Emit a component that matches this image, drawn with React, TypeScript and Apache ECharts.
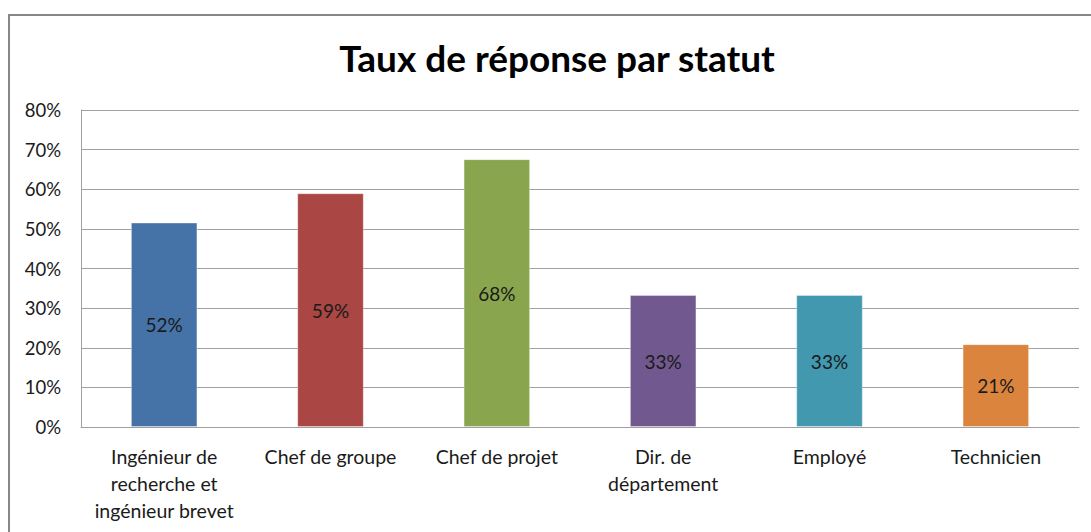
import React, { useEffect, useRef } from "react";
import * as echarts from "echarts";

const categories = [
  "Ingénieur de\nrecherche et\ningénieur brevet",
  "Chef de groupe",
  "Chef de projet",
  "Dir. de\ndépartement",
  "Employé",
  "Technicien",
];
const values = [0.516, 0.59, 0.676, 0.333, 0.333, 0.209];
const labels = ["52%", "59%", "68%", "33%", "33%", "21%"];
const colors = ["#4572A7", "#AA4643", "#89A54E", "#71588F", "#4198AF", "#DB843D"];
const titleText = "Taux de réponse par statut";

const FONT = "Lato, 'Open Sans', sans-serif";

export default function App() {
  const ref = useRef<HTMLDivElement>(null);
  useEffect(() => {
    if (!ref.current) return;
    const chart = echarts.init(ref.current, undefined, { renderer: "svg" });
    chart.setOption({
      animation: false,
      backgroundColor: "#ffffff",
      graphic: [
        {
          type: "polyline",
          shape: { points: [[9, 540], [9, 15], [1095, 15]] },
          style: { fill: "none", stroke: "#878787", lineWidth: 2 },
          z: -1,
        },
        {
          type: "text",
          x: 557,
          y: 57,
          style: {
            text: titleText,
            font: `bold 37px ${FONT}`,
            fill: "#000000",
            textAlign: "center",
            textVerticalAlign: "middle",
          },
        },
      ],
      grid: { left: 81, top: 110, right: 12, bottom: 105, containLabel: false },
      xAxis: {
        type: "category",
        data: categories,
        axisLine: { show: true, lineStyle: { color: "#a0a0a0", width: 1 } },
        axisTick: { show: false },
        axisLabel: {
          interval: 0,
          margin: 16,
          fontFamily: FONT,
          fontSize: 19.5,
          lineHeight: 27,
          color: "#1a1a1a",
        },
      },
      yAxis: {
        type: "value",
        min: 0,
        max: 0.8,
        interval: 0.1,
        axisLine: { show: true, lineStyle: { color: "#a0a0a0", width: 1 } },
        axisTick: { show: false },
        splitLine: { show: true, lineStyle: { color: "#a0a0a0", width: 1 } },
        axisLabel: {
          margin: 20,
          fontFamily: FONT,
          fontSize: 18.5,
          color: "#1a1a1a",
          formatter: (v: number) => `${Math.round(v * 100)}%`,
        },
      },
      series: [
        {
          type: "bar",
          barWidth: "40%",
          data: values.map((v, i) => ({
            value: v,
            itemStyle: { color: colors[i], borderColor: "rgba(255,255,255,0.35)", borderWidth: 1 },
          })),
          label: {
            show: true,
            position: "inside",
            fontFamily: FONT,
            fontSize: 19,
            color: "#1a1a1a",
            formatter: (p: any) => labels[p.dataIndex],
          },
        },
      ],
    });
    return () => chart.dispose();
  }, []);
  return (
    <div
      ref={ref}
      style={{ position: "fixed", left: 0, top: 0, width: 1091, height: 532 }}
    />
  );
}
